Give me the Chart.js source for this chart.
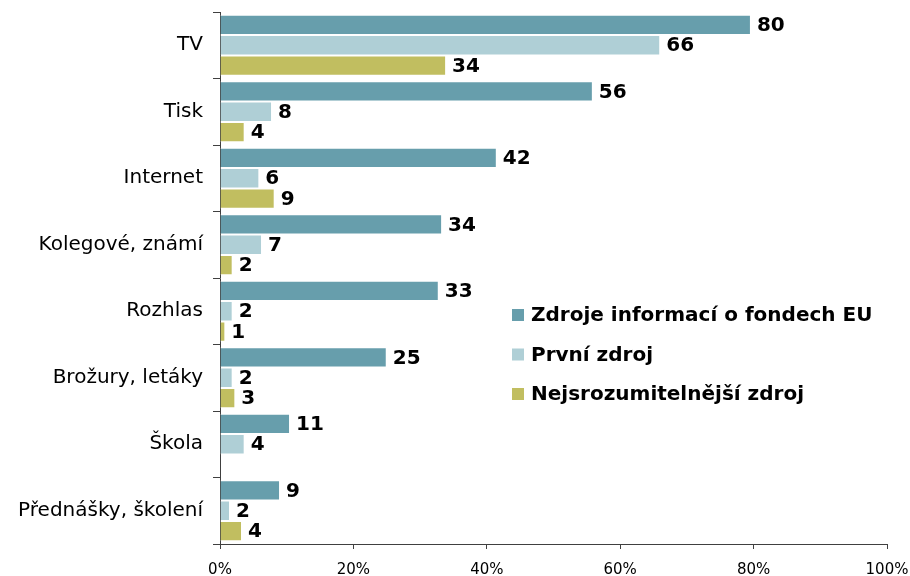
<!DOCTYPE html>
<html lang="cs">
<head>
  <meta charset="UTF-8">
  <title>Zdroje informací o fondech EU</title>
  <style>
    html, body { margin: 0; padding: 0; background: #fff; }
    .chart-wrapper { width: 910px; height: 576px; position: relative; }
  </style>
</head>
<body>
  <div class="chart-wrapper">
    <canvas id="chart"></canvas>
  </div>

  <script src="https://cdn.jsdelivr.net/npm/chart.js@4.4.1/dist/chart.umd.min.js"></script>
  <script>
    const FONT = "Verdana, 'DejaVu Sans', sans-serif";

    const CATEGORIES = [
      'TV',
      'Tisk',
      'Internet',
      'Kolegové, známí',
      'Rozhlas',
      'Brožury, letáky',
      'Škola',
      'Přednášky, školení'
    ];
    const SERIES_NAMES = [
      'Zdroje informací o fondech EU',
      'První zdroj',
      'Nejsrozumitelnější zdroj'
    ];
    const COLORS = ['#679EAC', '#AFCFD6', '#C1BE60'];

    // bar lengths
    const ZDROJE = [79.6, 55.9, 41.5, 33.3, 32.8, 25.0, 10.5, 9.0];
    const PRVNI  = [66.0, 7.8, 5.9, 6.3, 1.9, 1.9, 3.7, 1.5];
    const NEJSROZ = [33.9, 3.7, 8.2, 1.9, 0.8, 2.3, null, 3.3];

    // numbers printed next to the bars
    const ZDROJE_LABELS = ['80', '56', '42', '34', '33', '25', '11', '9'];
    const PRVNI_LABELS  = ['66', '8', '6', '7', '2', '2', '4', '2'];
    const NEJSROZ_LABELS = ['34', '4', '9', '2', '1', '3', '', '4'];

    const X_TICKS = [0, 20, 40, 60, 80, 100];

    const barLabels = {
      id: 'barLabels',
      afterDatasetsDraw(chart) {
        const ctx = chart.ctx;
        ctx.save();
        ctx.font = `bold 20px ${FONT}`;
        ctx.fillStyle = '#000';
        ctx.textAlign = 'left';
        ctx.textBaseline = 'middle';
        chart.data.datasets.forEach((ds, i) => {
          chart.getDatasetMeta(i).data.forEach((bar, j) => {
            if (ds.data[j] == null || !ds.valueLabels[j]) return;
            ctx.fillText(ds.valueLabels[j], bar.x + 6, bar.y + 1);
          });
        });
        ctx.restore();
      }
    };

    const sideLegend = {
      id: 'sideLegend',
      afterDraw(chart) {
        const ctx = chart.ctx;
        ctx.save();
        ctx.font = `bold 20px ${FONT}`;
        ctx.textAlign = 'left';
        ctx.textBaseline = 'middle';
        chart.data.datasets.forEach((ds, i) => {
          const y = 315 + i * 39.5;
          ctx.fillStyle = ds.backgroundColor;
          ctx.fillRect(512, y - 6, 12, 12);
          ctx.fillStyle = '#000';
          ctx.fillText(ds.label, 531, y + 1);
        });
        ctx.restore();
      }
    };

    const datasets = [
      { data: ZDROJE, valueLabels: ZDROJE_LABELS },
      { data: PRVNI, valueLabels: PRVNI_LABELS },
      { data: NEJSROZ, valueLabels: NEJSROZ_LABELS }
    ].map((d, i) => ({
      label: SERIES_NAMES[i],
      data: d.data,
      valueLabels: d.valueLabels,
      backgroundColor: COLORS[i],
      borderColor: '#ffffff',
      borderWidth: 1,
      categoryPercentage: 0.92,
      barPercentage: 1.0
    }));

    new Chart(document.getElementById('chart'), {
      type: 'bar',
      data: { labels: CATEGORIES, datasets },
      plugins: [barLabels, sideLegend],
      options: {
        indexAxis: 'y',
        responsive: true,
        maintainAspectRatio: false,
        animation: false,
        layout: { padding: { top: 12, right: 23, left: 0, bottom: 0 } },
        plugins: {
          legend: { display: false },
          tooltip: { enabled: false }
        },
        scales: {
          x: {
            min: 0,
            max: 100,
            afterBuildTicks: (s) => { s.ticks = X_TICKS.map(v => ({ value: v })); },
            afterFit: (s) => {
              s.height = 32;
              s.paddingLeft = 0;
              s.paddingRight = 0;
            },
            ticks: {
              callback: (v) => v + '%',
              color: '#000',
              padding: 12,
              maxRotation: 0,
              font: { family: FONT, size: 15 }
            },
            grid: {
              drawOnChartArea: false,
              drawTicks: true,
              tickLength: 5,
              color: '#404040'
            },
            border: { color: '#404040', width: 1 }
          },
          y: {
            afterFit: (s) => {
              s.width = 220;
              s.paddingTop = 0;
              s.paddingBottom = 0;
            },
            ticks: {
              color: '#000',
              padding: 10,
              font: { family: FONT, size: 20 }
            },
            grid: {
              offset: true,
              drawOnChartArea: false,
              drawTicks: true,
              tickLength: 7,
              color: '#404040'
            },
            border: { color: '#404040', width: 1 }
          }
        }
      }
    });
  </script>
</body>
</html>
